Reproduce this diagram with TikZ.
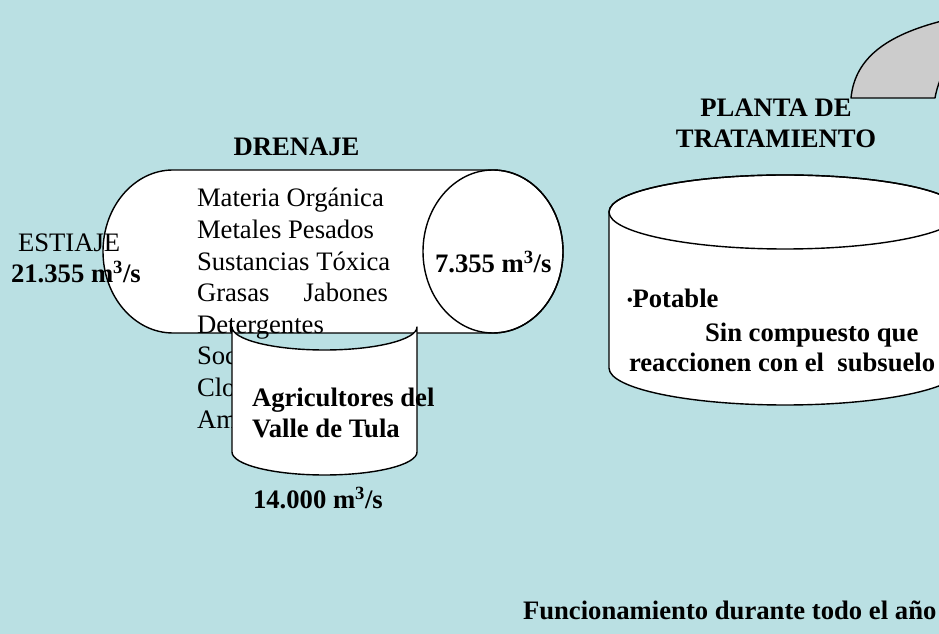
\documentclass[tikz,border=0pt]{standalone}
\usepackage{fontspec}
\setmainfont{Liberation Serif}
\definecolor{bgblue}{RGB}{186,224,227}
\definecolor{shapegray}{RGB}{204,204,204}
\tikzset{
  txt/.style={inner sep=0pt, outer sep=0pt, anchor=base west, font=\fontsize{26.67}{32}\selectfont},
  btxt/.style={txt, font=\fontsize{26.67}{32}\selectfont\bfseries},
  ctitle/.style={btxt, anchor=base},
  outline/.style={draw=black, line width=1.4pt, line join=round},
}
\begin{document}
\begin{tikzpicture}[x=1pt,y=1pt]
\useasboundingbox (0,0) rectangle (939,634);
\clip (0,0) rectangle (939,634);
\fill[bgblue] (0,0) rectangle (939,634);

% gray shape top right
\filldraw[fill=shapegray, outline] (851,536) .. controls (855,578) and (890,601) .. (950,615)
  -- (950,575) .. controls (942,560) and (937,548) .. (935,536) -- cycle;

% DRENAJE horizontal cylinder
\filldraw[fill=white, outline] (173,464) -- (493,464)
  arc[start angle=90, end angle=-90, x radius=70, y radius=81.5]
  -- (173,301)
  arc[start angle=270, end angle=90, x radius=70, y radius=81.5] -- cycle;
\draw[outline] (493,382.5) ellipse[x radius=70, y radius=81.5];

% upper part of small cylinder (white, no outline)
\fill[white] (232,307) arc[start angle=180, end angle=0, x radius=92.5, y radius=23] -- cycle;

% list text
\node[txt] (l1) at (197,427) {Materia Orgánica};
\node[txt] (l2) at (197,395.4) {Metales Pesados};
\node[txt] (l3) at (197,363.8) {Sustancias Tóxica};
\node[txt] (l4) at (197,332.2) {\makebox[191pt][s]{Grasas\hfill Jabones}};
\node[txt] (l5) at (197,300.6) {Detergentes};
\node[txt] (l6) at (197,269) {Soc};
\node[txt] (l7) at (197,237.4) {Clo};
\node[txt] (l8) at (197,205.8) {Am};

% small cylinder body
\fill[white] (232,307) arc[start angle=180, end angle=360, x radius=92.5, y radius=23]
  -- (417,182) arc[start angle=0, end angle=-180, x radius=92.5, y radius=23] -- cycle;
\draw[outline] (232,307) arc[start angle=180, end angle=360, x radius=92.5, y radius=23]
  -- (417,182) arc[start angle=0, end angle=-180, x radius=92.5, y radius=23] -- cycle;

% PLANTA cylinder
\filldraw[fill=white, outline] (609,422) -- (609,266)
  arc[start angle=180, end angle=360, x radius=176, y radius=37]
  -- (961,422)
  arc[start angle=0, end angle=180, x radius=176, y radius=37] -- cycle;
\draw[outline] (785,422) ellipse[x radius=176, y radius=37];

% texts
\node[ctitle] (drenaje) at (296.5,478) {DRENAJE};
\node[txt] (estiaje) at (18,382) {ESTIAJE};
\node[btxt] (q1) at (11,351) {21.355 m\textsuperscript{3}/s};
\node[btxt] (q2) at (435,361) {7.355 m\textsuperscript{3}/s};
\node[btxt] (agr1) at (252,227) {Agricultores del};
\node[btxt] (agr2) at (252,196) {Valle de Tula};
\node[btxt] (q3) at (253,125) {14.000 m\textsuperscript{3}/s};
\node[ctitle] (planta1) at (776,517) {PLANTA DE};
\node[ctitle] (planta2) at (776,486) {TRATAMIENTO};
\node[btxt] (pot) at (627,326) {{\fontsize{16}{16}\selectfont\raisebox{2pt}{•}}Potable};
\node[btxt] (sin) at (705,292) {Sin compuesto que};
\node[btxt] (reac) at (629,262) {reaccionen con el\ \ subsuelo};
\node[btxt] (func) at (523,14) {Funcionamiento durante todo el año};
\end{tikzpicture}
\end{document}
